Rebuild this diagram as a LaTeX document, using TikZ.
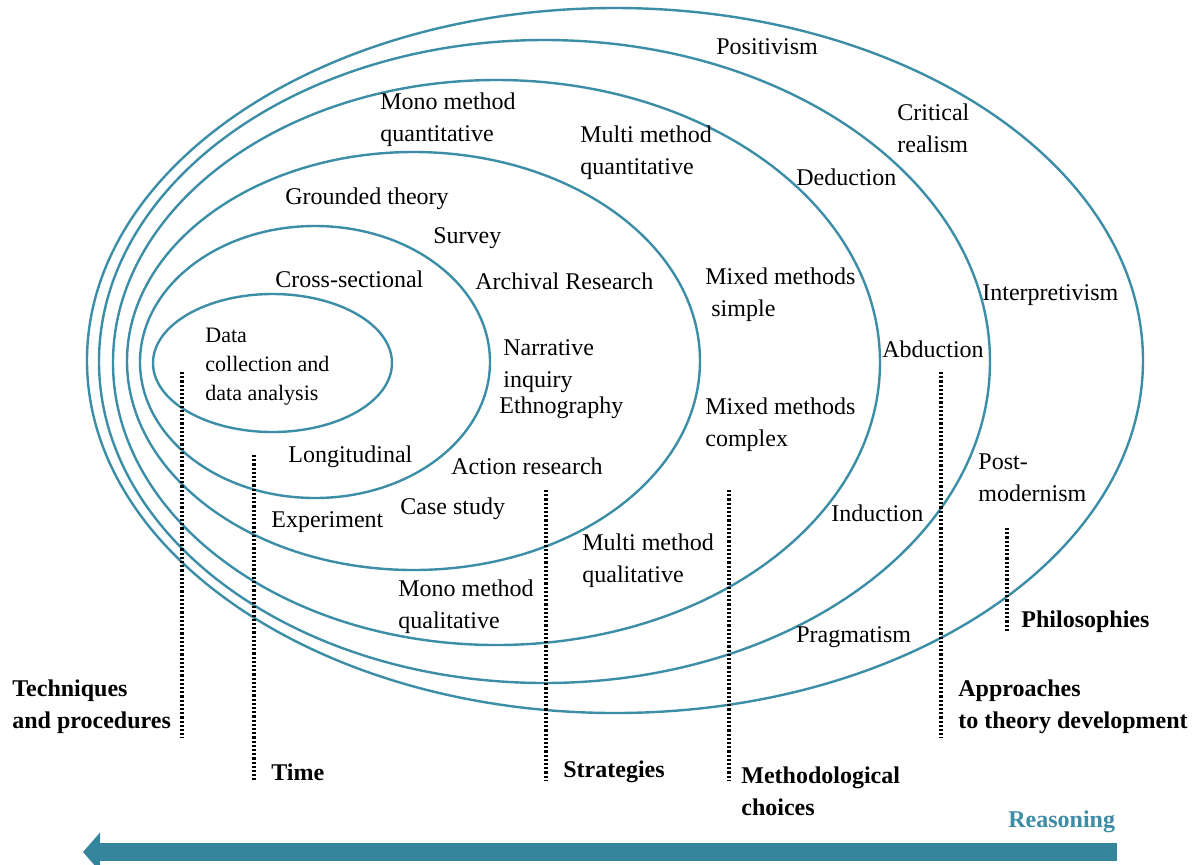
\documentclass[tikz,border=0pt]{standalone}
\usepackage{fontspec}
\setmainfont{Liberation Serif}
\usetikzlibrary{arrows.meta}
\definecolor{ringc}{RGB}{60,142,166}
\definecolor{arrowc}{RGB}{52,133,156}
\definecolor{reasonc}{RGB}{62,140,165}
\begin{document}
\begin{tikzpicture}[x=0.5pt,y=-0.5pt,
  ring/.style={draw=ringc, line width=1.2pt},
  lbl/.style={inner sep=0pt, anchor=west, align=left, font=\fontsize{12}{16}\selectfont},
  smalllbl/.style={lbl, font=\fontsize{11}{14.5}\selectfont},
  bl/.style={lbl, font=\fontsize{12}{16}\selectfont\bfseries},
  dotline/.style={line width=1.7pt, dash pattern=on 1.1pt off 1pt}]
\useasboundingbox (0,0) rectangle (1201,864);
\fill[white] (0,0) rectangle (1201,864);
% rings
\draw[ring] (615,360.5) ellipse [x radius=264pt, y radius=176.25pt];
\draw[ring] (544.5,361.5) ellipse [x radius=222.75pt, y radius=160.75pt];
\draw[ring] (496.5,362.5) ellipse [x radius=191.75pt, y radius=141.25pt];
\draw[ring] (413.5,361) ellipse [x radius=143.25pt, y radius=104.5pt];
\draw[ring] (315,362) ellipse [x radius=87.5pt, y radius=68pt];
\draw[ring] (272.5,363) ellipse [x radius=59.75pt, y radius=34.5pt];
% labels
\node[lbl] (pos) at (716,47) {Positivism};
\node[lbl] (crit) at (897,128) {Critical\\realism};
\node[lbl] (monoquant) at (380,120) {Mono method\\quantitative};
\node[lbl] (multiquant) at (580,153) {Multi method\\quantitative};
\node[lbl] (ded) at (796,177) {Deduction};
\node[lbl] (grounded) at (285,199) {Grounded theory};
\node[lbl] (survey) at (433,238) {Survey};
\node[lbl] (cross) at (275,279) {Cross-sectional};
\node[lbl] (archival) at (475,281) {Archival Research};
\node[lbl] (mixsimple) at (705,295) {Mixed methods\\\hspace*{3pt}simple};
\node[lbl] (interp) at (982,295) {Interpretivism};
\node[lbl] (abd) at (882,349) {Abduction};
\node[smalllbl] (data) at (205,367) {Data\\collection and\\data analysis};
\node[lbl] (narr) at (503,366) {Narrative\\inquiry};
\node[lbl] (ethno) at (499,408) {Ethnography};
\node[lbl] (mixcomplex) at (705,425) {Mixed methods\\complex};
\node[lbl] (long) at (288,457) {Longitudinal};
\node[lbl] (action) at (451,466) {Action research};
\node[lbl] (post) at (978,478) {Post-\\modernism};
\node[lbl] (exper) at (271,522) {Experiment};
\node[lbl] (case) at (400,509) {Case study};
\node[lbl] (ind) at (831,513) {Induction};
\node[lbl] (multiqual) at (582,561) {Multi method\\qualitative};
\node[lbl] (monoqual) at (398,607) {Mono method\\qualitative};
\node[lbl] (prag) at (796,637) {Pragmatism};
\node[bl] (phil) at (1021,622) {Philosophies};
\node[bl] (tech) at (12,707) {Techniques\\and procedures};
\node[bl] (appr) at (958,707) {Approaches\\to theory development};
\node[bl] (time) at (271,772) {Time};
\node[bl] (strat) at (563,772) {Strategies};
\node[bl] (meth) at (741,791) {Methodological\\choices};
\node[bl, text=reasonc] (reason) at (1008,822) {Reasoning};
% dotted leaders
\coordinate (t1a) at (182,372); \coordinate (t1b) at (182,738);
\coordinate (t2a) at (254,455); \coordinate (t2b) at (254,780);
\coordinate (t3a) at (546,490); \coordinate (t3b) at (546,780);
\coordinate (t4a) at (729,490); \coordinate (t4b) at (729,780);
\coordinate (t5a) at (941,372); \coordinate (t5b) at (941,738);
\coordinate (t6a) at (1007,528); \coordinate (t6b) at (1007,632);
\draw[dotline] (t1a) -- (t1b);
\draw[dotline] (t2a) -- (t2b);
\draw[dotline] (t3a) -- (t3b);
\draw[dotline] (t4a) -- (t4b);
\draw[dotline] (t5a) -- (t5b);
\draw[dotline] (t6a) -- (t6b);
% reasoning arrow
\coordinate (rs) at (1117,852);
\coordinate (re) at (83,852);
\draw[arrowc, line width=9pt, -{Triangle[length=8.5pt,width=19pt]}] (rs) -- (re);
\end{tikzpicture}
\end{document}
